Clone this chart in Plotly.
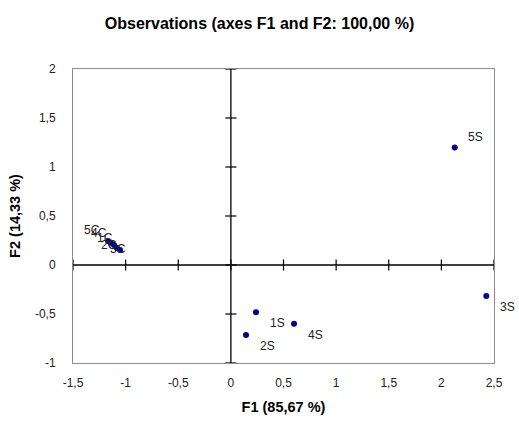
import plotly.graph_objects as go

# Observation coordinates on the first two factors
obs_labels = ["1S", "2S", "3S", "4S", "5S", "5C", "4C", "1C", "2C", "3C"]
f1_values = [0.239, 0.144, 2.427, 0.600, 2.127, -1.167, -1.139, -1.110, -1.082, -1.053]
f2_values = [-0.483, -0.714, -0.316, -0.600, 1.200, 0.245, 0.224, 0.204, 0.173, 0.153]
# label offsets in pixels (x, y) relative to each point
label_dx = [21, 21, 21, 21, 21, -16, -12, -9, -8, -2]
label_dy = [11, 11, 11, 11, -10, -11, -10, -7, -3, -1]

x_ticks = [-1.5, -1, -0.5, 0, 0.5, 1, 1.5, 2, 2.5]
x_tick_text = ["-1,5", "-1", "-0,5", "0", "0,5", "1", "1,5", "2", "2,5"]
y_ticks = [-1, -0.5, 0, 0.5, 1, 1.5, 2]
y_tick_text = ["-1", "-0,5", "0", "0,5", "1", "1,5", "2"]

font_family = "Liberation Sans, Arial, sans-serif"

fig = go.Figure()

# Zero axes through the origin
fig.add_hline(y=0, line=dict(color="black", width=1.3), layer="below")
fig.add_vline(x=0, line=dict(color="black", width=1.3), layer="below")

# Tick marks crossing the zero axes
fig.add_trace(go.Scatter(
    x=x_ticks, y=[0] * len(x_ticks), mode="markers", hoverinfo="skip",
    marker=dict(symbol="line-ns", size=8, line=dict(color="black", width=1.2)),
    showlegend=False, cliponaxis=False))
fig.add_trace(go.Scatter(
    x=[0] * len(y_ticks), y=y_ticks, mode="markers", hoverinfo="skip",
    marker=dict(symbol="line-ew", size=8, line=dict(color="black", width=1.2)),
    showlegend=False, cliponaxis=False))

# Observations
fig.add_trace(go.Scatter(
    x=f1_values, y=f2_values, mode="markers", text=obs_labels,
    marker=dict(color="#00008B", size=6),
    showlegend=False, cliponaxis=False))

for lab, xv, yv, dx, dy in zip(obs_labels, f1_values, f2_values, label_dx, label_dy):
    fig.add_annotation(x=xv, y=yv, text=lab, showarrow=False,
                       xshift=dx, yshift=-dy,
                       font=dict(family=font_family, size=12, color="#222222"))

fig.update_layout(
    width=519, height=421, autosize=False,
    paper_bgcolor="white", plot_bgcolor="white",
    margin=dict(l=73, r=25, t=69, b=58),
    font=dict(family=font_family, size=12, color="#222222"),
    title=dict(text="<b>Observations (axes F1 and F2: 100,00 %)</b>",
               x=0.5, xanchor="center", y=0.945, yanchor="middle",
               font=dict(family=font_family, size=16, color="black")),
)

fig.update_xaxes(
    range=[-1.5, 2.5], tickvals=x_ticks, ticktext=x_tick_text,
    showgrid=False, zeroline=False, showline=True, mirror=True,
    linecolor="#8c8c8c", linewidth=1, ticks="", ticklabelstandoff=9,
    automargin=False,
    title=dict(text="<b>F1 (85,67 %)</b>", standoff=12,
               font=dict(family=font_family, size=14.5, color="black")),
)
fig.update_yaxes(
    range=[-1, 2], tickvals=y_ticks, ticktext=y_tick_text,
    showgrid=False, zeroline=False, showline=True, mirror=True,
    linecolor="#8c8c8c", linewidth=1, ticks="", ticklabelstandoff=14,
    automargin=False,
    title=dict(text="<b>F2 (14,33 %)</b>", standoff=10,
               font=dict(family=font_family, size=14.5, color="black")),
)

fig.write_html("out.html")
